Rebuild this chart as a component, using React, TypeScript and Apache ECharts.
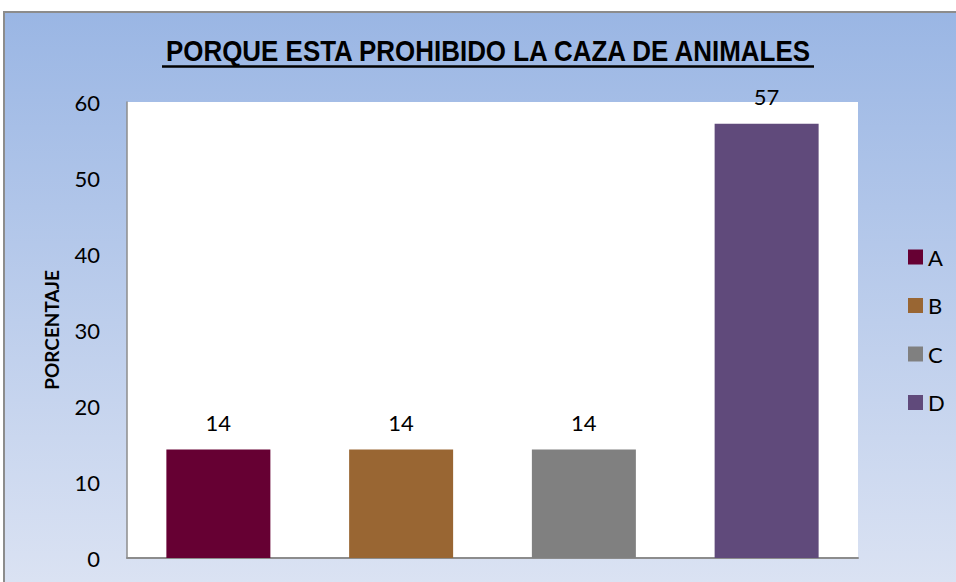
import React, { useEffect, useRef } from "react";
import * as echarts from "echarts";

const categories = ["A", "B", "C", "D"];
const values = [14.29, 14.29, 14.29, 57.14];
const colors = ["#660033", "#996633", "#808080", "#604a7b"];
const yTicks = { min: 0, max: 60, interval: 10 };
const titleText = "PORQUE ESTA PROHIBIDO LA CAZA DE ANIMALES";
const yAxisName = "PORCENTAJE";

export default function App() {
  const ref = useRef<HTMLDivElement>(null);
  useEffect(() => {
    if (!ref.current) return;
    const chart = echarts.init(ref.current, undefined, { renderer: "svg" });
    const series = categories.map((name, i) => ({
      name,
      type: "bar",
      stack: "all",
      barWidth: 104,
      itemStyle: { color: colors[i] },
      data: categories.map((_, j) => (j === i ? values[i] : "-")),
      label: {
        show: true,
        position: "top",
        distance: 16,
        fontFamily: "Lato",
        fontSize: 22,
        color: "#000",
        formatter: (p: any) => String(Math.round(p.value)),
      },
    }));
    chart.setOption({
      animation: false,
      backgroundColor: "#ffffff",
      graphic: [
        {
          type: "rect",
          z: -10,
          shape: { x: 4, y: 12, width: 1000, height: 620 },
          style: {
            fill: new echarts.graphic.LinearGradient(0, 0, 0, 1, [
              { offset: 0, color: "#9ab6e4" },
              { offset: 1, color: "#e0e6f4" },
            ]),
            stroke: "#8c8c8c",
            lineWidth: 2,
          },
        },
        {
          type: "text",
          x: 488,
          y: 51,
          scaleX: 0.865,
          style: {
            text: titleText,
            fontFamily: "Liberation Sans",
            fontWeight: "bold",
            fontSize: 30,
            fill: "#000",
            textAlign: "center",
            textVerticalAlign: "middle",
          },
        },
        {
          type: "line",
          shape: { x1: 162, y1: 66.5, x2: 814, y2: 66.5 },
          style: { stroke: "#000", lineWidth: 2.5 },
        },
      ],
      legend: {
        orient: "vertical",
        left: 903,
        top: 241,
        itemWidth: 15,
        itemHeight: 15,
        itemGap: 26.5,
        icon: "rect",
        textStyle: { fontFamily: "Lato", fontSize: 22, color: "#000" },
        data: categories,
      },
      grid: {
        left: 127,
        right: 98,
        top: 102,
        bottom: 24,
        show: true,
        backgroundColor: "#ffffff",
        borderWidth: 0,
      },
      xAxis: {
        type: "category",
        data: categories,
        axisLine: { lineStyle: { color: "#8c8c8c", width: 2 } },
        axisTick: { show: false },
        axisLabel: { show: false },
      },
      yAxis: {
        type: "value",
        min: yTicks.min,
        max: yTicks.max,
        interval: yTicks.interval,
        name: yAxisName,
        nameLocation: "middle",
        nameGap: 66,
        nameRotate: 90,
        nameTextStyle: {
          fontFamily: "Lato",
          fontWeight: "bold",
          fontSize: 19,
          color: "#000",
        },
        axisLine: { show: true, lineStyle: { color: "#8c8c8c", width: 1.5 } },
        axisTick: { show: false },
        splitLine: { show: false },
        axisLabel: {
          fontFamily: "Lato",
          fontSize: 22,
          color: "#000",
          margin: 27,
        },
      },
      series,
    });
    return () => chart.dispose();
  }, []);
  return (
    <div
      ref={ref}
      style={{ position: "fixed", left: 0, top: 0, width: 956, height: 582 }}
    />
  );
}
